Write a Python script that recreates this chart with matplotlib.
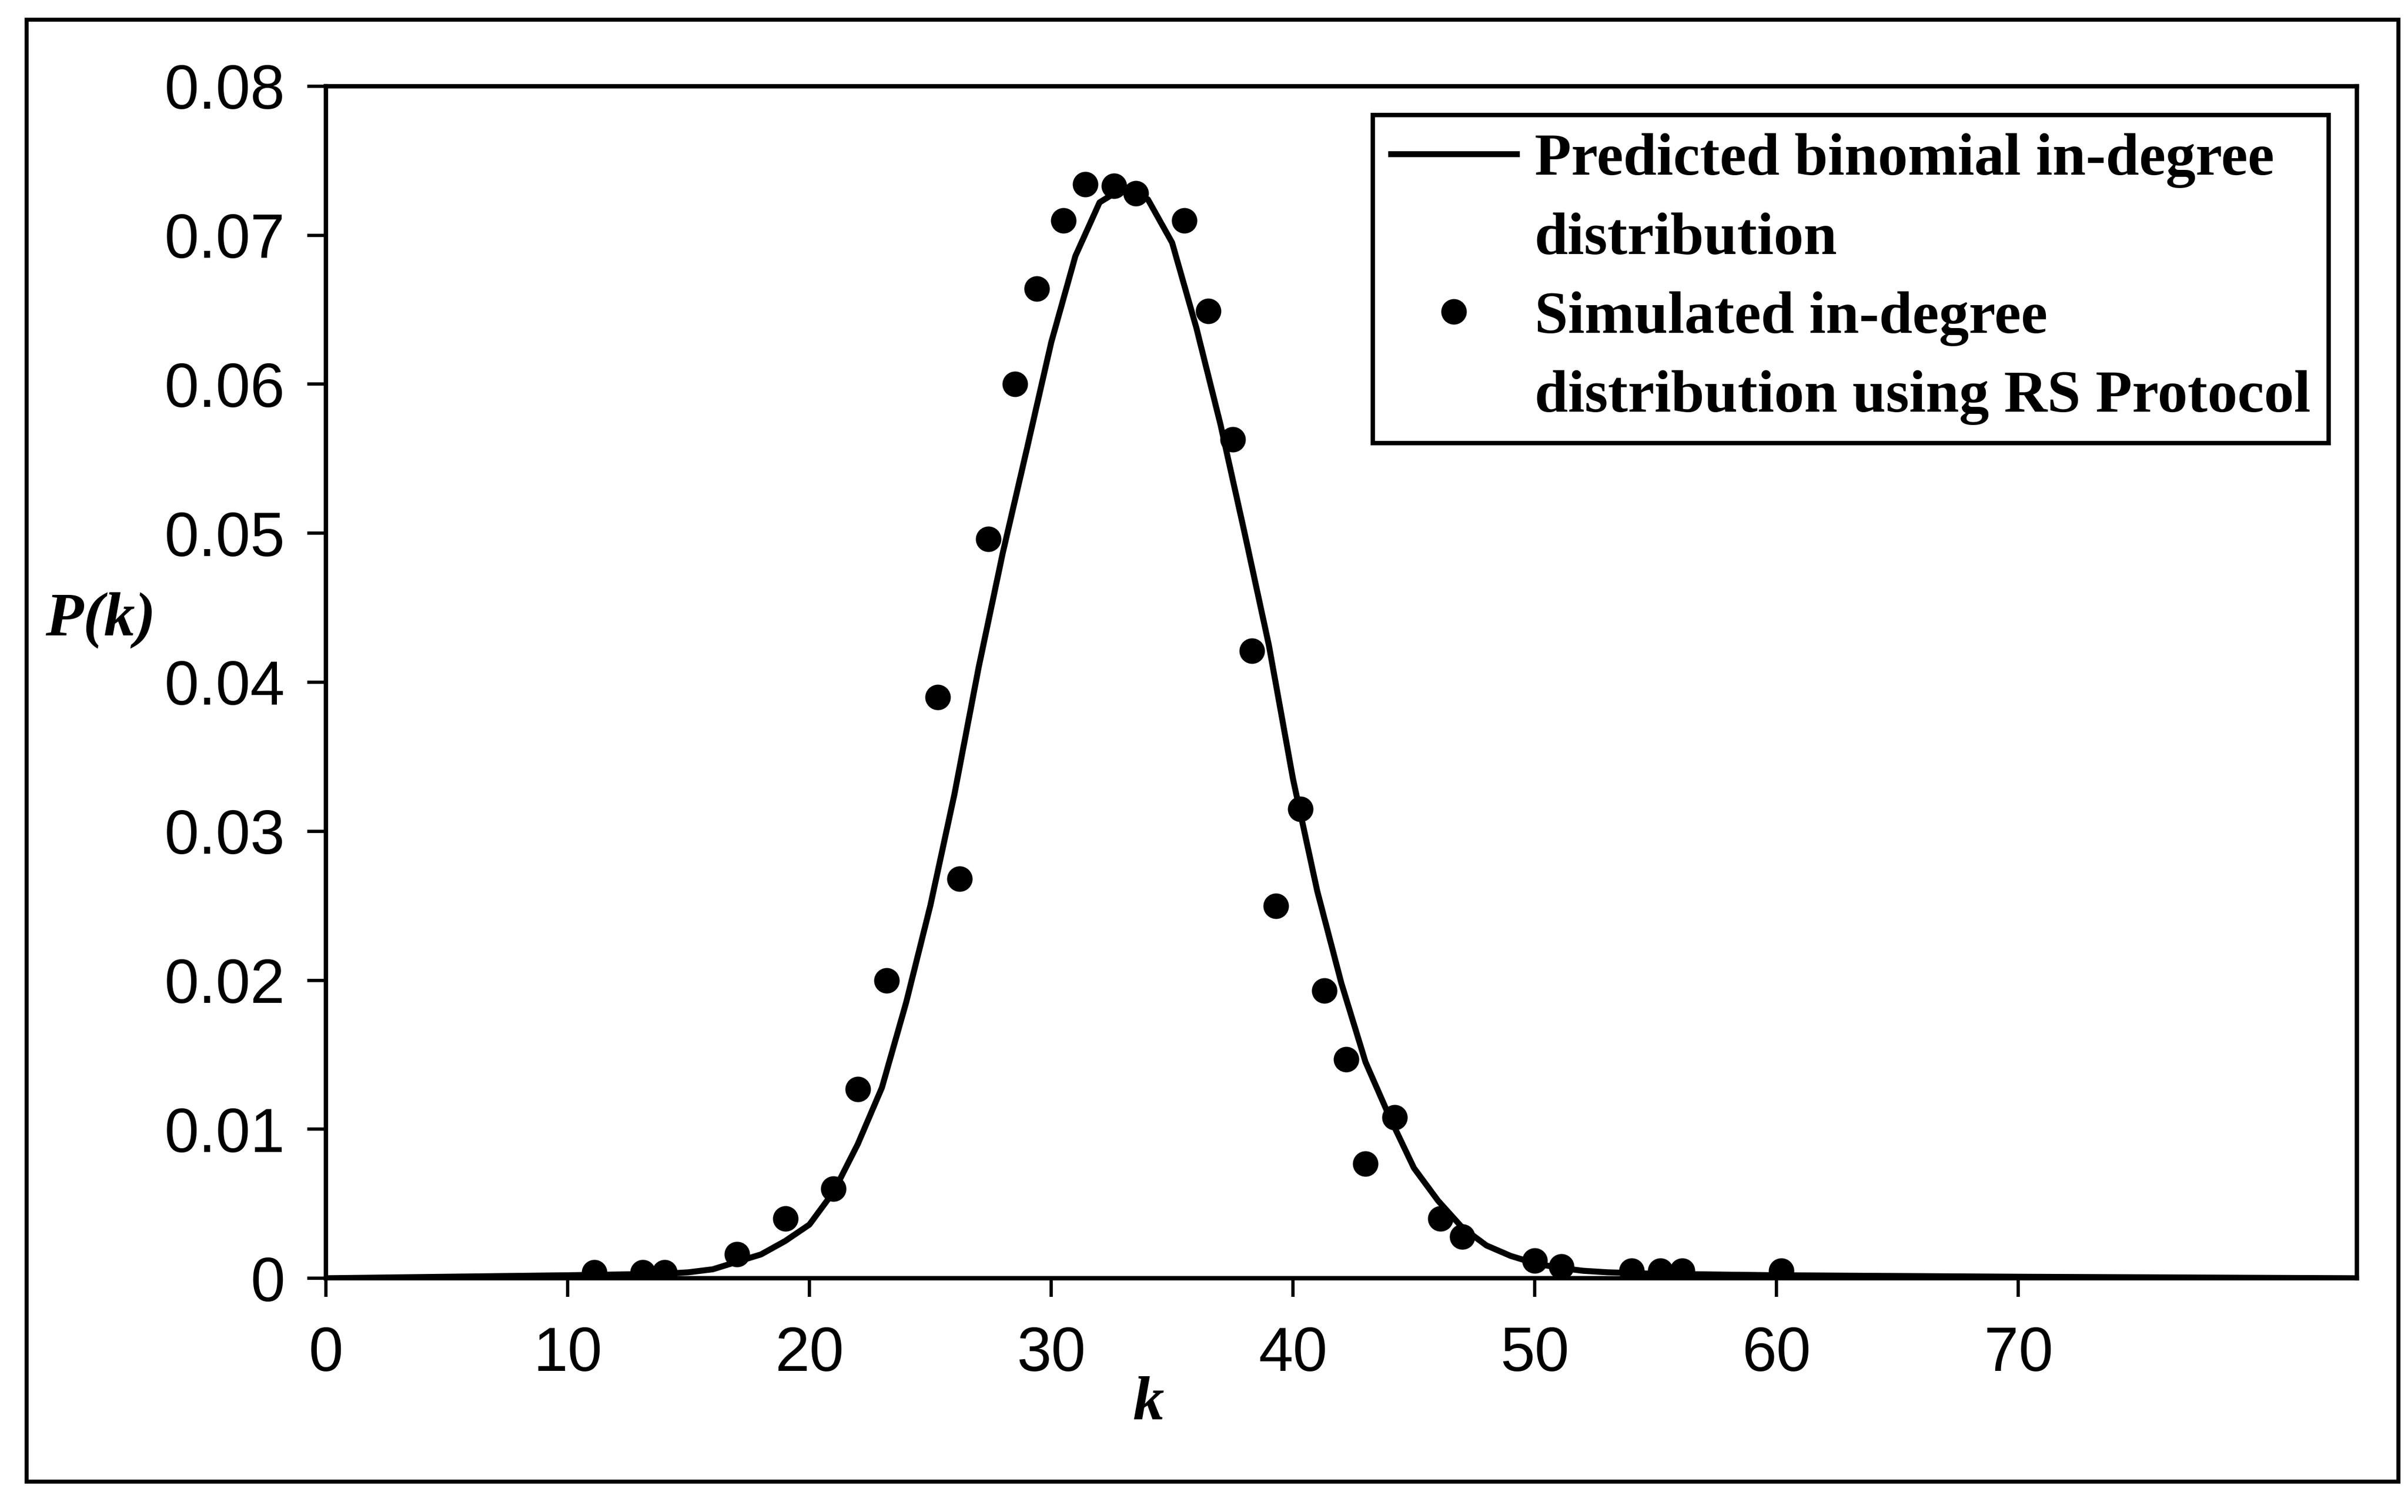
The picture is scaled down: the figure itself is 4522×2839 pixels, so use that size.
"""
plot.py — in-degree distribution P(k): binomial prediction vs RS Protocol simulation.

Run:  python plot.py   (writes out.png)
"""

import matplotlib

matplotlib.use("Agg")  # headless backend — no display needed
import matplotlib.pyplot as plt
from matplotlib.lines import Line2D
from matplotlib.patches import Rectangle

# Predicted binomial in-degree distribution (smooth curve).
K_PREDICTED = [0, 5, 10, 14, 15, 16, 17, 18, 19, 20, 21, 22, 23, 24, 25, 26,
               27, 28, 29, 30, 31, 32, 33, 34, 35, 36, 37, 38, 39, 40, 41, 42,
               43, 44, 45, 46, 47, 48, 49, 50, 51, 52, 53, 55, 60, 70, 84]
P_PREDICTED = [0.0000, 0.0001, 0.0002, 0.0003, 0.0004, 0.0006, 0.0011, 0.0016,
               0.0025, 0.0036, 0.0058, 0.0090, 0.0128, 0.0185, 0.0250, 0.0325,
               0.0410, 0.0487, 0.0557, 0.0628, 0.0686, 0.0722, 0.0732, 0.0724,
               0.0695, 0.0638, 0.0573, 0.0500, 0.0425, 0.0335, 0.0260, 0.0198,
               0.0145, 0.0108, 0.0074, 0.0052, 0.0034, 0.0022, 0.0015, 0.0010,
               0.0007, 0.0005, 0.0004, 0.0003, 0.0002, 0.0001, 0.0000]

# Simulated in-degree distribution using the RS Protocol (dots).
K_SIMULATED = [11.1, 13.1, 14.0, 17.0, 19.0, 21.0, 22.0, 23.2, 25.3, 26.2,
               27.4, 28.5, 29.4, 30.5, 31.4, 32.6, 33.5, 35.5, 36.5, 37.5,
               38.3, 39.3, 40.3, 41.3, 42.2, 43.0, 44.2, 46.1, 47.0, 50.0,
               51.1, 54.0, 55.2, 56.1, 60.2]
P_SIMULATED = [0.0004, 0.0004, 0.0004, 0.0016, 0.0040, 0.0060, 0.0127, 0.0200,
               0.0390, 0.0268, 0.0496, 0.0600, 0.0664, 0.0710, 0.0734, 0.0733,
               0.0728, 0.0710, 0.0649, 0.0563, 0.0421, 0.0250, 0.0315, 0.0193,
               0.0147, 0.0077, 0.0108, 0.0040, 0.0028, 0.0012, 0.0008, 0.0005,
               0.0005, 0.0005, 0.0005]

X_TICKS = [0, 10, 20, 30, 40, 50, 60, 70]
Y_TICKS = [0, 0.01, 0.02, 0.03, 0.04, 0.05, 0.06, 0.07, 0.08]
Y_TICK_LABELS = ["0", "0.01", "0.02", "0.03", "0.04", "0.05", "0.06", "0.07", "0.08"]

LEGEND_LABELS = [
    "Predicted binomial in-degree",
    "distribution",
    "Simulated in-degree",
    "distribution using RS Protocol",
]

SANS = "Liberation Sans"
SERIF = "Liberation Serif"


def main() -> None:
    fig = plt.figure(figsize=(4522 / 300, 2839 / 300), dpi=300)
    fig.patch.set_facecolor("white")
    ax = fig.add_axes([0.1353, 0.1546, 0.8435, 0.7884])

    # 1. Curve + simulated points.
    curve, = ax.plot(K_PREDICTED, P_PREDICTED, color="black", linewidth=2.7,
                     solid_joinstyle="round", zorder=3)
    dots, = ax.plot(K_SIMULATED, P_SIMULATED, "o", color="black",
                    markersize=10.5, linestyle="none", zorder=4)

    # 2. Axes: limits, ticks, frame.
    ax.set_xlim(0, 84)
    ax.set_ylim(0, 0.08)
    ax.set_xticks(X_TICKS)
    ax.set_xticklabels([str(t) for t in X_TICKS])
    ax.set_yticks(Y_TICKS)
    ax.set_yticklabels(Y_TICK_LABELS)
    ax.tick_params(axis="both", direction="out", length=8.4, width=1.5,
                   color="black", labelsize=28)
    ax.tick_params(axis="x", pad=13)
    ax.tick_params(axis="y", pad=10)
    for lbl in ax.get_xticklabels() + ax.get_yticklabels():
        lbl.set_fontfamily(SANS)
    for spine in ax.spines.values():
        spine.set_linewidth(2.0)
        spine.set_color("black")

    # 3. Axis labels (bold italic serif), centred on their anchor points.
    ax.set_ylabel("P(k)", fontfamily=SERIF, fontsize=28, fontweight="bold",
                  fontstyle="italic", rotation=0, va="center", ha="center")
    ax.yaxis.set_label_coords(-0.111, 0.552)
    ax.set_xlabel("k", fontfamily=SERIF, fontsize=28, fontweight="bold",
                  fontstyle="italic", va="center")
    ax.xaxis.set_label_coords(0.405, -0.106)

    # 4. Legend — continuation lines get an empty handle so each marker sits
    #    next to the first line of its label.
    blank = Line2D([], [], linestyle="none")
    leg = ax.legend([curve, blank, dots, blank], LEGEND_LABELS,
                    loc="upper right", bbox_to_anchor=(0.986, 0.976),
                    borderaxespad=0, frameon=True, fancybox=False,
                    framealpha=1, edgecolor="black", handlelength=2.1,
                    handletextpad=0.3, borderpad=0.3, labelspacing=0.4,
                    prop={"family": SERIF, "weight": "bold", "size": 27})
    leg.get_frame().set_linewidth(2.0)

    # 5. Outer border around the whole figure.
    fig.patches.append(Rectangle((0.011, 0.020), 0.985, 0.967,
                                 transform=fig.transFigure, fill=False,
                                 edgecolor="black", linewidth=1.8))

    fig.savefig("out.png", dpi=300, facecolor="white")
    plt.close(fig)


if __name__ == "__main__":
    main()
